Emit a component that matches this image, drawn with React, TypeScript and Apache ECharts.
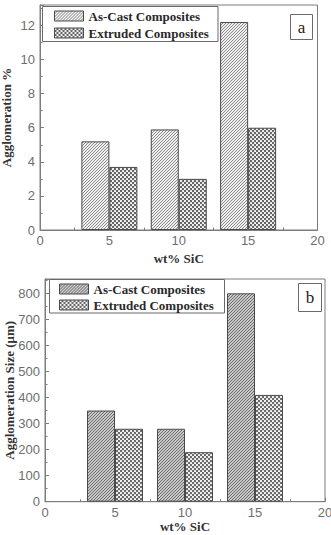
import React, { useEffect, useRef } from "react";
import * as echarts from "echarts";

const wtSiC = [5, 10, 15];
const aggPctAsCast = [5.2, 5.9, 12.2];
const aggPctExtruded = [3.7, 3.0, 6.0];
const aggSizeAsCast = [350, 280, 800];
const aggSizeExtruded = [280, 190, 410];
const seriesNames = ["As-Cast Composites", "Extruded Composites"];
const yNames = ["Agglomeration %", "Agglomeration Size (μm)"];
const xName = "wt% SiC";
const panelLabels = ["a", "b"];

function makeHatch(bg: string, fg: string) {
  const s = 3;
  const c = document.createElement("canvas");
  c.width = s;
  c.height = s;
  const ctx = c.getContext("2d")!;
  ctx.fillStyle = bg;
  ctx.fillRect(0, 0, s, s);
  ctx.strokeStyle = fg;
  ctx.lineWidth = 1;
  ctx.beginPath();
  for (const o of [-s, 0, s]) {
    ctx.moveTo(o, s);
    ctx.lineTo(o + s, 0);
  }
  ctx.stroke();
  return { image: c.toDataURL(), repeat: "repeat", imageWidth: s, imageHeight: s };
}

function makeDots(bg: string, fg: string) {
  const c = document.createElement("canvas");
  c.width = 4;
  c.height = 4;
  const ctx = c.getContext("2d")!;
  ctx.fillStyle = bg;
  ctx.fillRect(0, 0, 4, 4);
  ctx.fillStyle = fg;
  const centers = [
    [1, 1],
    [3, 3],
  ];
  for (const [cx, cy] of centers) {
    for (const dx of [-4, 0, 4]) {
      for (const dy of [-4, 0, 4]) {
        ctx.beginPath();
        ctx.arc(cx + dx, cy + dy, 1.05, 0, Math.PI * 2);
        ctx.fill();
      }
    }
  }
  return { image: c.toDataURL(), repeat: "repeat", imageWidth: 4, imageHeight: 4 };
}

export default function App() {
  const ref = useRef<HTMLDivElement>(null);

  useEffect(() => {
    if (!ref.current) return;
    const chart = echarts.init(ref.current, null, { renderer: "svg" });

    const hatchA = makeHatch("#f0f0f0", "#8a8a8a");
    const hatchB = makeHatch("#c8c8c8", "#6e6e6e");
    const dotsA = makeDots("#666666", "#ffffff");
    const dotsB = makeDots("#6a6a6a", "#ffffff");

    const frame = "#7d7d7d";
    const tickLabel = {
      fontFamily: "Liberation Sans",
      fontSize: 13,
      color: "#6e6e6e",
    };
    const nameStyle = {
      fontFamily: "Liberation Serif",
      fontWeight: "bold" as const,
      fontSize: 13,
      color: "#333",
    };

    const grids = [
      { left: 40, top: 5, width: 277.5, height: 225 },
      { left: 45, top: 279, width: 280, height: 222.7 },
    ];

    const xAxis = [0, 1].map((i) => ({
      type: "value",
      gridIndex: i,
      min: 0,
      max: 20,
      interval: 5,
      name: xName,
      nameLocation: "middle",
      nameGap: i === 0 ? 22 : 18,
      nameMoveOverlap: false,
      nameTextStyle: nameStyle,
      axisLine: { show: true, lineStyle: { color: frame, width: 1 } },
      axisTick: { show: true, inside: true, length: 4, lineStyle: { color: frame } },
      minorTick: { show: true, splitNumber: 2, length: 2.5, lineStyle: { color: frame } },
      axisLabel: { ...tickLabel, margin: 4 },
      splitLine: { show: false },
    }));

    const yAxis = [
      {
        type: "value",
        gridIndex: 0,
        min: 0,
        max: 13.2,
        interval: 2,
        name: yNames[0],
      },
      {
        type: "value",
        gridIndex: 1,
        min: 0,
        max: 855,
        interval: 100,
        name: yNames[1],
      },
    ].map((a, i) => ({
      ...a,
      nameLocation: "middle",
      nameGap: i === 0 ? 27 : 29,
      nameMoveOverlap: false,
      nameTextStyle: nameStyle,
      axisLine: { show: true, lineStyle: { color: frame, width: 1 } },
      axisTick: { show: true, inside: true, length: 4, lineStyle: { color: frame } },
      minorTick: { show: true, splitNumber: 2, length: 2.5, lineStyle: { color: frame } },
      axisLabel: { ...tickLabel, margin: 5, showMaxLabel: false },
      splitLine: { show: false },
    }));

    const barCommon = {
      type: "bar",
      barWidth: 28,
      barGap: "0%",
    };

    const series = [
      {
        ...barCommon,
        name: seriesNames[0],
        xAxisIndex: 0,
        yAxisIndex: 0,
        data: wtSiC.map((x, k) => [x, aggPctAsCast[k]]),
        itemStyle: { color: hatchA, borderColor: "#4a4a4a", borderWidth: 1 },
      },
      {
        ...barCommon,
        name: seriesNames[1],
        xAxisIndex: 0,
        yAxisIndex: 0,
        data: wtSiC.map((x, k) => [x, aggPctExtruded[k]]),
        itemStyle: { color: dotsA, borderColor: "#4a4a4a", borderWidth: 1 },
      },
      {
        ...barCommon,
        name: seriesNames[0],
        xAxisIndex: 1,
        yAxisIndex: 1,
        data: wtSiC.map((x, k) => [x, aggSizeAsCast[k]]),
        itemStyle: { color: hatchB, borderColor: "#4a4a4a", borderWidth: 1 },
      },
      {
        ...barCommon,
        name: seriesNames[1],
        xAxisIndex: 1,
        yAxisIndex: 1,
        data: wtSiC.map((x, k) => [x, aggSizeExtruded[k]]),
        itemStyle: { color: dotsB, borderColor: "#4a4a4a", borderWidth: 1 },
      },
    ];

    const legendCommon = {
      orient: "vertical",
      icon: "rect",
      itemWidth: 29,
      itemHeight: 10,
      padding: 0,
      selectedMode: false,
      textStyle: {
        fontFamily: "Liberation Serif",
        fontWeight: "bold",
        fontSize: 13,
        color: "#2a2a2a",
        lineHeight: 14,
      },
    };

    const legend = [
      {
        ...legendCommon,
        left: 54,
        top: 9,
        itemGap: 3,
        data: [
          { name: seriesNames[0], itemStyle: { color: hatchA, borderColor: "#4a4a4a", borderWidth: 1 } },
          { name: seriesNames[1], itemStyle: { color: dotsA, borderColor: "#4a4a4a", borderWidth: 1 } },
        ],
      },
      {
        ...legendCommon,
        left: 59,
        top: 282,
        itemGap: 2,
        data: [
          { name: seriesNames[0], itemStyle: { color: hatchB, borderColor: "#4a4a4a", borderWidth: 1 } },
          { name: seriesNames[1], itemStyle: { color: dotsB, borderColor: "#4a4a4a", borderWidth: 1 } },
        ],
      },
    ];

    const boxStyle = { fill: "#fff", stroke: "#6a6a6a", lineWidth: 1 };
    const graphic = [
      { type: "rect", z: 1, shape: { x: 42.5, y: 6.5, width: 175.5, height: 35 }, style: boxStyle },
      { type: "rect", z: 1, shape: { x: 49.5, y: 279.5, width: 175, height: 33.5 }, style: boxStyle },
      { type: "rect", z: 1, shape: { x: 290.5, y: 14.5, width: 22, height: 25 }, style: boxStyle },
      { type: "rect", z: 1, shape: { x: 298.5, y: 283.5, width: 23, height: 28 }, style: boxStyle },
      {
        type: "text",
        z: 2,
        x: 301.5,
        y: 27,
        style: {
          text: panelLabels[0],
          fontFamily: "Liberation Serif",
          fontSize: 17,
          fill: "#222",
          align: "center",
          verticalAlign: "middle",
        },
      },
      {
        type: "text",
        z: 2,
        x: 310,
        y: 297,
        style: {
          text: panelLabels[1],
          fontFamily: "Liberation Serif",
          fontSize: 17,
          fill: "#222",
          align: "center",
          verticalAlign: "middle",
        },
      },
    ];

    chart.setOption({
      animation: false,
      backgroundColor: "#fff",
      grid: grids.map((g) => ({
        ...g,
        show: true,
        containLabel: false,
        outerBoundsMode: "none",
        borderColor: frame,
        borderWidth: 1,
        backgroundColor: "transparent",
      })),
      xAxis,
      yAxis,
      legend,
      graphic,
      series,
    } as any);

    return () => chart.dispose();
  }, []);

  return (
    <div
      ref={ref}
      style={{ position: "fixed", left: 0, top: 0, width: 331, height: 535 }}
    />
  );
}
